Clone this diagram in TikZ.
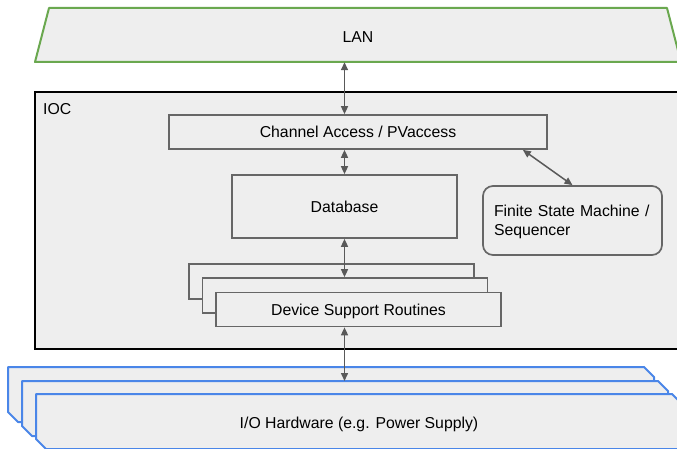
\documentclass[tikz,border=0pt]{standalone}
\usepackage{fontspec}
\setmainfont{Liberation Sans}
\usetikzlibrary{arrows.meta}
\definecolor{boxfill}{HTML}{EEEEEE}
\definecolor{boxline}{HTML}{666666}
\definecolor{arrowgray}{HTML}{595959}
\definecolor{langreen}{HTML}{6AA84F}
\definecolor{ioblue}{HTML}{4A86E8}

% I/O card outline: top-right and bottom-left corners cut off
\newcommand\iocardshape[3]{% name, x, y
  \draw[iocard] (#2,#3) -- ++(636,0) -- ++(10,10) -- ++(0,45) -- ++(-636,0) -- ++(-10,-10) -- cycle;
  \node[minimum width=646pt, minimum height=55pt, inner sep=0pt, anchor=north west] (#1) at (#2,#3) {};
}

\begin{document}
\begin{tikzpicture}[x=1pt, y=-1pt,
  font=\fontsize{15.8}{18}\selectfont,
  capline/.style={text height=11.3pt, text depth=0pt},
  block/.style={draw=boxline, fill=boxfill, line width=1.7pt, rectangle, inner sep=0pt, capline},
  iocard/.style={draw=ioblue, fill=boxfill, line width=2pt, line join=round},
  link/.style={draw=arrowgray, line width=1.5pt,
    {Triangle[length=8pt,width=7pt]}-{Triangle[length=8pt,width=7pt]}}]
\useasboundingbox (0,0) rectangle (677,449);
\clip (0,0) rectangle (677,449);

% network
\draw[draw=langreen, fill=boxfill, line width=2pt, line join=round]
  (49,8) -- (667,8) -- (681,62) -- (35,62) -- cycle;
\node[capline, minimum width=600pt, minimum height=51pt, inner sep=0pt] (lan) at (358,36.5) {LAN};

% IOC frame
\draw[draw=black, fill=boxfill, line width=2.5pt] (35,92) rectangle (700,349);
\node[capline, anchor=west, inner sep=0pt] (ioc) at (43,108.5) {IOC};

% IOC internals
\node[block, minimum width=378pt, minimum height=34pt] (ca) at (358,132) {Channel Access / PVaccess};
\node[block, minimum width=225pt, minimum height=63pt] (db) at (344.5,206.5) {Database};
\node[block, rounded corners=10pt, minimum width=179pt, minimum height=69pt,
      text height=11.3pt, text depth=18.7pt, text width=157pt, align=left,
      font=\fontsize{15.8}{18.7}\selectfont] (fsm) at (572.5,220.5) {Finite State Machine /\\Sequencer};

\node[block, minimum width=285pt, minimum height=35pt] (dsr1) at (331.5,281.5) {};
\node[block, minimum width=285pt, minimum height=35pt] (dsr2) at (345,295.5) {};
\node[block, minimum width=285pt, minimum height=34pt] (dsr3) at (358.5,309.5) {Device Support Routines};

% hardware
\iocardshape{io1}{8}{367}
\iocardshape{io2}{22}{381}
\iocardshape{io3}{36}{394}
\node[capline, inner sep=0pt] (iotext) at (359,423) {I/O Hardware (e.g. Power Supply)};

% connections
\draw[link] (db.north |- lan.south) -- (db.north |- ca.north);
\draw[link] (db.north |- ca.south) -- (db.north);
\draw[link] (db.south) -- (db.south |- dsr2.north);
\draw[link] (db.south |- dsr3.south) -- (db.south |- io2.north);
\draw[link] ([xshift=-25pt]ca.south east) -- (fsm.north);
\end{tikzpicture}
\end{document}
